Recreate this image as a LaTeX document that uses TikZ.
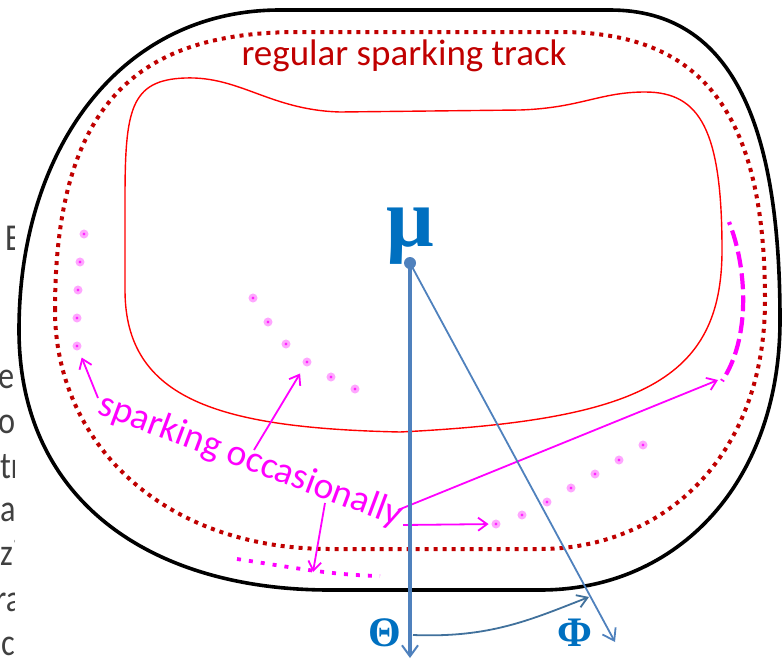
\documentclass[tikz,border=0pt]{standalone}
\usepackage{fontspec}
\setmainfont{Carlito}
\newfontfamily\symfont{Liberation Serif}
\usetikzlibrary{arrows.meta}
\definecolor{darkred}{HTML}{C00000}
\definecolor{linered}{HTML}{FF0000}
\definecolor{mag}{HTML}{FF00FF}
\definecolor{lineblue}{HTML}{4F81BD}
\definecolor{textblue}{HTML}{0070C0}
\definecolor{arcblue}{HTML}{41719C}
\definecolor{fraggray}{HTML}{404040}
\begin{document}
\begin{tikzpicture}[x=1pt,y=-1pt,
  outline/.style={line width=3.6pt, black},
  track/.style={darkred, line width=4pt, dash pattern=on 4pt off 5pt},
  redline/.style={linered, line width=1.4pt},
  spark/.style={circle, inner sep=0pt, minimum size=6pt, fill=mag!85, draw=mag!35, line width=2.8pt},
  marrow/.style={mag, line width=1.8pt, -{Straight Barb[length=9pt,width=13pt,line width=1.8pt]}},
  mdash/.style={mag, line width=4.2pt, dash pattern=on 16pt off 6pt, dash phase=13pt},
  mdot/.style={mag, line width=3.8pt, dash pattern=on 4pt off 8pt},
  bluethick/.style={lineblue, line width=4pt, -{Straight Barb[length=11pt,width=16pt,line width=2pt]}},
  bluethin/.style={lineblue, line width=1.8pt, -{Straight Barb[length=11pt,width=15pt,line width=1.8pt]}},
  bluearc/.style={arcblue, line width=1.8pt, -{Straight Barb[length=10pt,width=13pt,line width=1.8pt]}},
  frag/.style={text=fraggray, font=\fontsize{38}{38}\selectfont, inner sep=0pt, anchor=base west, xscale=0.85},
  greek/.style={text=textblue, font=\symfont\bfseries\fontsize{42}{42}\selectfont, inner sep=0pt}
]
\useasboundingbox (0,0) rectangle (784,659);

% cut-off text fragments at the left edge
\begin{scope}
  \clip (0,0) rectangle (14,659);
  \node[frag] (f1) at (5,250) {E};
  \node[frag] (f2) at (-2,388) {e};
  \node[frag] (f3) at (-2,433) {o};
  \node[frag] (f4) at (0,478) {tr};
  \node[frag] (f5) at (0,521) {av};
  \node[frag] (f6) at (0,565) {zi};
  \node[frag] (f7) at (-5,611) {ra};
  \node[frag] (f8) at (1,655) {c};
\end{scope}

% outer black outline
\draw[outline] (19,330) .. controls (19,150) and (120,10) .. (280,10) -- (610,10)
  .. controls (735,10) and (780,130) .. (780,320)
  .. controls (780,480) and (680,590) .. (540,590) -- (330,590)
  .. controls (150,590) and (19,500) .. (19,330) -- cycle;

% regular sparking track (dotted)
\draw[track] (55,310) .. controls (55,90) and (150,32) .. (300,32) -- (560,32)
  .. controls (700,32) and (765,110) .. (765,300)
  .. controls (765,460) and (660,549) .. (540,549) -- (330,549)
  .. controls (160,549) and (55,440) .. (55,310);

% inner red line
\draw[redline] (125,200) .. controls (125,110) and (130,80) .. (185,78)
  .. controls (240,76) and (270,110) .. (340,112) -- (520,110)
  .. controls (580,108) and (600,92) .. (645,92)
  .. controls (700,92) and (722,130) .. (722,250)
  .. controls (722,380) and (640,420) .. (400,432)
  .. controls (220,428) and (125,400) .. (125,290) -- cycle;

\node[text=darkred, font=\fontsize{37}{37}\selectfont, inner sep=0pt, anchor=base] (track) at (404,65) {regular sparking track};

% occasional sparks
\node[spark] (l1) at (84,234) {};
\node[spark] (l2) at (80,262) {};
\node[spark] (l3) at (78,290) {};
\node[spark] (l4) at (77,318) {};
\node[spark] (l5) at (77,346) {};
\node[spark] (m1) at (253,298) {};
\node[spark] (m2) at (268,322) {};
\node[spark] (m3) at (286,344) {};
\node[spark] (m4) at (307,362) {};
\node[spark] (m5) at (331,377) {};
\node[spark] (m6) at (355,389) {};
\node[spark] (r1) at (496,524) {};
\node[spark] (r2) at (522,515) {};
\node[spark] (r3) at (547,502) {};
\node[spark] (r4) at (571,488) {};
\node[spark] (r5) at (595,474) {};
\node[spark] (r6) at (619,460) {};
\node[spark] (r7) at (643,445) {};

\draw[mdash] (729,222) .. controls (748,270) and (750,340) .. (722,381);
\draw[mdot] (237,559) .. controls (290,567) and (330,575) .. (380,576);

\node[text=mag, font=\fontsize{37.5}{37.5}\selectfont, inner sep=0pt, anchor=base, rotate=-20.5] (occ) at (247,470) {sparking occasionally};

\coordinate (s1) at (98,398);
\coordinate (s2) at (254,450);
\coordinate (s3) at (325,503);
\coordinate (s4) at (398,510);
\coordinate (s5) at (403,525);
\coordinate (t3) at (313,572);
\coordinate (t4) at (718,380);
\draw[marrow, shorten >=8pt] (s1) -- (l5);
\draw[marrow, shorten >=9pt] (s2) -- (m4);
\draw[marrow] (s3) -- (t3);
\draw[marrow] (s4) -- (t4);
\draw[marrow, shorten >=3pt] (s5) -- (r1);

% mu, Theta, Phi
\node[text=textblue, font=\symfont\bfseries\fontsize{84}{84}\selectfont, inner sep=0pt, anchor=base] (mu) at (410,246) {μ};
\node[circle, fill=lineblue, inner sep=0pt, minimum size=12pt] (o) at (410,263) {};
\coordinate (vEnd) at (410,658);
\coordinate (dEnd) at (615,642);
\draw[bluethick] (o.center) -- (vEnd);
\draw[bluethin] (o.center) -- (dEnd);
\node[greek] (theta) at (385,633) {Θ};
\node[greek] (phi) at (575,633) {Φ};
\coordinate (aStart) at (413,635);
\coordinate (aEnd) at (589,597);
\draw[bluearc] (aStart) .. controls (490,638) and (530,620) .. (aEnd);
\end{tikzpicture}
\end{document}
